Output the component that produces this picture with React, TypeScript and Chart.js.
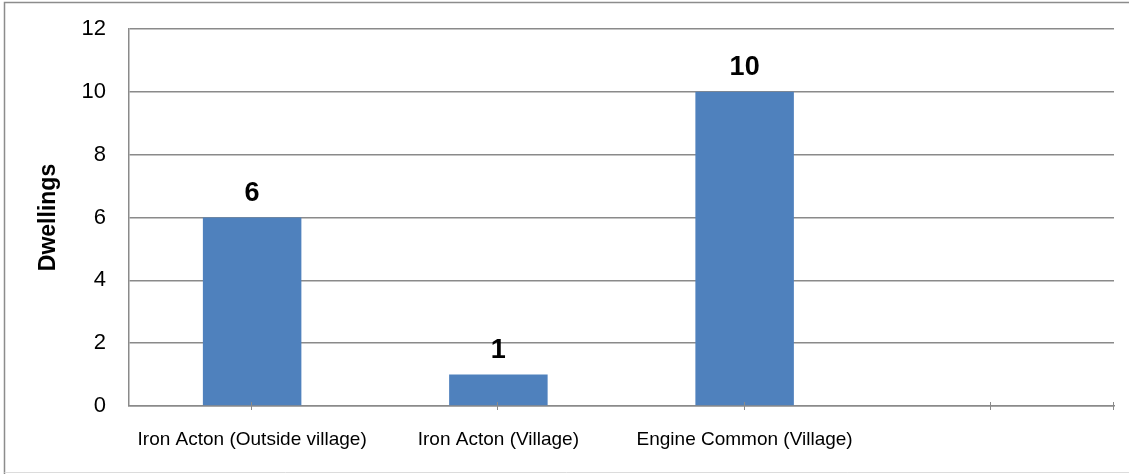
import React, { useEffect, useRef } from "react";
import { Chart, registerables } from "chart.js";

Chart.register(...registerables);

const categories = [
  "Iron Acton (Outside village)",
  "Iron Acton (Village)",
  "Engine Common (Village)",
  "",
];
const dwellings: (number | null)[] = [6, 1, 10, null];
const yMin = 0;
const yMax = 12;
const yStep = 2;
const yTitle = "Dwellings";

const FONT = "'Liberation Sans', Arial, sans-serif";
const GRID = "#8a8a8a";
const BAR = "#4F81BD";

const framePlugin = {
  id: "frame",
  beforeDraw(chart: any) {
    const { ctx, width, height } = chart;
    ctx.save();
    ctx.fillStyle = "#ffffff";
    ctx.fillRect(0, 0, width, height);
    ctx.lineWidth = 1.5;
    ctx.strokeStyle = "#8c8c8c";
    ctx.beginPath();
    ctx.moveTo(4.5, height);
    ctx.lineTo(4.5, 2.5);
    ctx.lineTo(width, 2.5);
    ctx.stroke();
    ctx.strokeStyle = "#dcdcdc";
    ctx.lineWidth = 1;
    ctx.beginPath();
    ctx.moveTo(4.5, height - 1.5);
    ctx.lineTo(width, height - 1.5);
    ctx.stroke();
    ctx.restore();
  },
};

const xTickPlugin = {
  id: "xTickMarks",
  afterDraw(chart: any) {
    const { ctx, chartArea } = chart;
    const xs = chart.scales.x;
    ctx.save();
    ctx.strokeStyle = GRID;
    ctx.lineWidth = 1;
    const positions: number[] = [];
    for (let i = 0; i < categories.length; i++) positions.push(xs.getPixelForValue(i));
    positions.push(chartArea.right);
    positions.forEach((p) => {
      const x = Math.round(p) - 0.5;
      ctx.beginPath();
      ctx.moveTo(x, chartArea.bottom - 4);
      ctx.lineTo(x, chartArea.bottom + 4);
      ctx.stroke();
    });
    ctx.restore();
  },
};

const dataLabelPlugin = {
  id: "dataLabels",
  afterDatasetsDraw(chart: any) {
    const { ctx } = chart;
    const meta = chart.getDatasetMeta(0);
    ctx.save();
    ctx.font = `bold 27px ${FONT}`;
    ctx.fillStyle = "#000000";
    ctx.textAlign = "center";
    ctx.textBaseline = "alphabetic";
    meta.data.forEach((bar: any, i: number) => {
      const v = dwellings[i];
      if (v === null || v === undefined) return;
      ctx.fillText(String(v), bar.x, bar.y - 17);
    });
    ctx.restore();
  },
};

export default function App() {
  const ref = useRef<HTMLCanvasElement | null>(null);
  useEffect(() => {
    document.body.style.margin = "0";
    if (!ref.current) return;
    const chart = new Chart(ref.current, {
      type: "bar",
      data: {
        labels: categories,
        datasets: [
          {
            data: dwellings,
            backgroundColor: BAR,
            borderWidth: 0,
            barPercentage: 0.4,
            categoryPercentage: 1,
          },
        ],
      },
      options: {
        responsive: false,
        animation: false,
        layout: { padding: { top: 29, right: 15, left: 0, bottom: 0 } },
        plugins: {
          legend: { display: false },
          tooltip: { enabled: false },
        },
        scales: {
          x: {
            grid: { display: false },
            border: { display: true, color: GRID, width: 1.5 },
            ticks: {
              color: "#000000",
              font: { family: FONT, size: 19 },
              padding: 14,
              maxRotation: 0,
              autoSkip: false,
            },
            afterFit(scale: any) {
              scale.height = 474 - 406 - 0;
            },
          },
          y: {
            min: yMin,
            max: yMax,
            ticks: {
              stepSize: yStep,
              color: "#000000",
              font: { family: FONT, size: 22 },
              padding: 0,
            },
            grid: {
              color: GRID,
              lineWidth: 1.5,
              drawTicks: true,
              tickLength: 23,
              tickColor: "rgba(0,0,0,0)",
            },
            border: { display: true, color: GRID, width: 1.5 },
            title: {
              display: true,
              text: yTitle,
              color: "#000000",
              font: { family: FONT, size: 23, weight: "bold" },
              padding: { top: 35, bottom: 0 },
            },
            afterFit(scale: any) {
              scale.width = 129;
            },
          },
        },
      },
      plugins: [framePlugin, dataLabelPlugin, xTickPlugin],
    });
    return () => chart.destroy();
  }, []);
  return <canvas ref={ref} width={1129} height={474} style={{ display: "block" }} />;
}
